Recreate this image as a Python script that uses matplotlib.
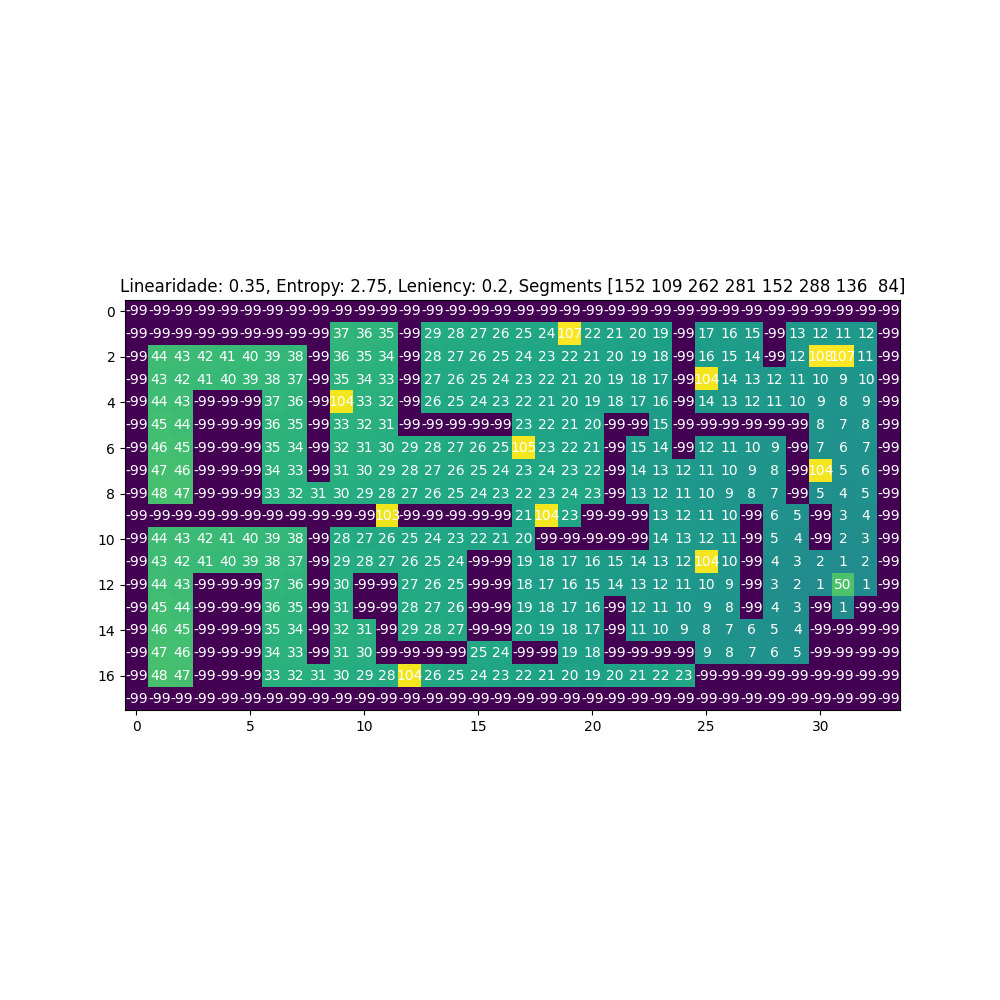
import numpy as np
import matplotlib
matplotlib.use("Agg")
import matplotlib.pyplot as plt

N = -99
row0 = [N] * 34
row1 = [N, N, N, N, N, N, N, N, N, 37, 36, 35, N, 29, 28, 27, 26, 25, 24, 107, 22, 21, 20, 19, N, 17, 16, 15, N, 13, 12, 11, 12, N]
row2 = [N, 44, 43, 42, 41, 40, 39, 38, N, 36, 35, 34, N, 28, 27, 26, 25, 24, 23, 22, 21, 20, 19, 18, N, 16, 15, 14, N, 12, 108, 107, 11, N]
row3 = [N, 43, 42, 41, 40, 39, 38, 37, N, 35, 34, 33, N, 27, 26, 25, 24, 23, 22, 21, 20, 19, 18, 17, N, 104, 14, 13, 12, 11, 10, 9, 10, N]
row4 = [N, 44, 43, N, N, N, 37, 36, N, 104, 33, 32, N, 26, 25, 24, 23, 22, 21, 20, 19, 18, 17, 16, N, 14, 13, 12, 11, 10, 9, 8, 9, N]
row5 = [N, 45, 44, N, N, N, 36, 35, N, 33, 32, 31, N, N, N, N, N, 23, 22, 21, 20, N, N, 15, N, N, N, N, N, N, 8, 7, 8, N]
row6 = [N, 46, 45, N, N, N, 35, 34, N, 32, 31, 30, 29, 28, 27, 26, 25, 105, 23, 22, 21, N, 15, 14, N, 12, 11, 10, 9, N, 7, 6, 7, N]
row7 = [N, 47, 46, N, N, N, 34, 33, N, 31, 30, 29, 28, 27, 26, 25, 24, 23, 24, 23, 22, N, 14, 13, 12, 11, 10, 9, 8, N, 104, 5, 6, N]
row8 = [N, 48, 47, N, N, N, 33, 32, 31, 30, 29, 28, 27, 26, 25, 24, 23, 22, 23, 24, 23, N, 13, 12, 11, 10, 9, 8, 7, N, 5, 4, 5, N]
row9 = [N, N, N, N, N, N, N, N, N, N, N, 103, N, N, N, N, N, 21, 104, 23, N, N, N, 13, 12, 11, 10, N, 6, 5, N, 3, 4, N]
row10 = [N, 44, 43, 42, 41, 40, 39, 38, N, 28, 27, 26, 25, 24, 23, 22, 21, 20, N, N, N, N, N, 14, 13, 12, 11, N, 5, 4, N, 2, 3, N]
row11 = [N, 43, 42, 41, 40, 39, 38, 37, N, 29, 28, 27, 26, 25, 24, N, N, 19, 18, 17, 16, 15, 14, 13, 12, 104, 10, N, 4, 3, 2, 1, 2, N]
row12 = [N, 44, 43, N, N, N, 37, 36, N, 30, N, N, 27, 26, 25, N, N, 18, 17, 16, 15, 14, 13, 12, 11, 10, 9, N, 3, 2, 1, 50, 1, N]
row13 = [N, 45, 44, N, N, N, 36, 35, N, 31, N, N, 28, 27, 26, N, N, 19, 18, 17, 16, N, 12, 11, 10, 9, 8, N, 4, 3, N, 1, N, N]
row14 = [N, 46, 45, N, N, N, 35, 34, N, 32, 31, N, 29, 28, 27, N, N, 20, 19, 18, 17, N, 11, 10, 9, 8, 7, 6, 5, 4, N, N, N, N]
row15 = [N, 47, 46, N, N, N, 34, 33, N, 31, 30, N, N, N, N, 25, 24, N, N, 19, 18, N, N, N, N, 9, 8, 7, 6, 5, N, N, N, N]
row16 = [N, 48, 47, N, N, N, 33, 32, 31, 30, 29, 28, 104, 26, 25, 24, 23, 22, 21, 20, 19, 20, 21, 22, 23, N, N, N, N, N, N, N, N, N]
row17 = [N] * 34

grid = np.array([row0, row1, row2, row3, row4, row5, row6, row7, row8, row9,
                 row10, row11, row12, row13, row14, row15, row16, row17])

segments = np.array([152, 109, 262, 281, 152, 288, 136, 84])
title = f"Linearidade: 0.35, Entropy: 2.75, Leniency: 0.2, Segments {segments}"

fig, ax = plt.subplots(figsize=(10, 10), dpi=100)
ax.imshow(grid, cmap="viridis")
for i in range(grid.shape[0]):
    for j in range(grid.shape[1]):
        ax.text(j, i, str(grid[i, j]), ha="center", va="center", color="w", fontsize=10)
ax.set_title(title)
fig.savefig("out.png")
